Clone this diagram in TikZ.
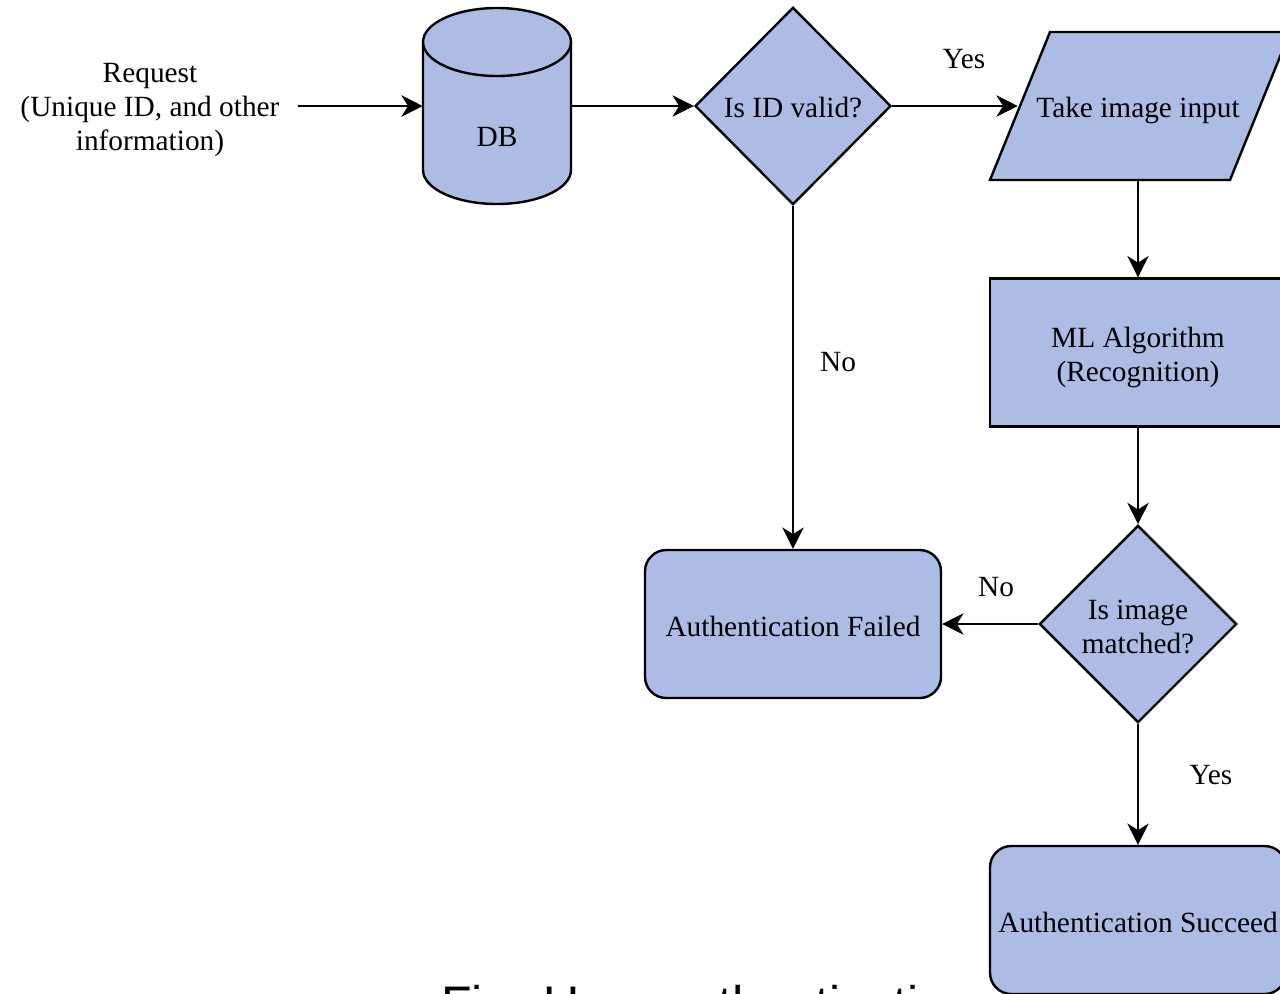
\documentclass[tikz,border=0pt]{standalone}
\usepackage{fontspec}
\setmainfont{Liberation Serif}
\newfontfamily\capfont{Liberation Sans}
\usetikzlibrary{shapes.geometric,arrows.meta}
\definecolor{boxfill}{RGB}{172,188,229}
\begin{document}
\begin{tikzpicture}[x=0.75pt,y=-0.75pt,
  every node/.style={font=\fontsize{22pt}{25.5pt}\selectfont},
  every label/.style={align=center, inner sep=0pt},
  box/.style={draw, line width=1.8pt, fill=boxfill, minimum width=222pt, minimum height=111pt, inner sep=0pt, align=center},
  rbox/.style={box, rounded corners=16pt},
  dec/.style={diamond, draw, line width=1.8pt, fill=boxfill, inner sep=0pt, align=center, minimum width=147pt, minimum height=148pt},
  arr/.style={-{Stealth[length=16pt,width=16pt,inset=5pt]}, line width=1.8pt},
  lbl/.style={inner sep=0pt},
  shp/.style={fill=boxfill, draw, line width=1.8pt}
]
\useasboundingbox (0,0) rectangle (1280,993);
\clip (0,0) rectangle (1280,993);

% caption (cut off at the bottom, as in the reference)
\node[anchor=base west, inner sep=0pt, font=\capfont\fontsize{37.5pt}{40pt}\selectfont] (cap) at (441,1021) {Fig. User authentication};

% request text
\node[align=center, inner xsep=14pt, inner ysep=0pt] (req) at (150,110) {Request\\(Unique ID, and other\\information)};

% DB cylinder
\path[shp] (423,42) -- (423,170) arc[start angle=180,end angle=360,x radius=55.5pt,y radius=25.5pt] -- (571,42) arc[start angle=0,end angle=180,x radius=55.5pt,y radius=25.5pt] -- cycle;
\draw[line width=1.8pt] (423,42) arc[start angle=180,end angle=360,x radius=55.5pt,y radius=25.5pt];
\node[minimum width=111pt, minimum height=148pt, inner sep=0pt] (db) at (497,106) {};
\node (dblabel) at (497,137) {DB};

% decision 1
\node[dec, label={[yshift=-1.5pt]center:Is ID valid?}] (d1) at (793,106) {};

% input parallelogram
\path[shp] (1050,32) -- (1290,32) -- (1230,180) -- (990,180) -- cycle;
\node[minimum width=180pt, minimum height=111pt, inner sep=0pt, label={[yshift=-3pt]center:Take image input}] (inp) at (1138,106) {};

% ML box
\node[box, label={[yshift=-3.75pt]center:ML Algorithm\\(Recognition)}] (ml) at (1138,352.5) {};

% decision 2
\node[dec, minimum width=148pt, label={[yshift=-2.25pt]center:Is image\\matched?}] (d2) at (1138,624) {};

% results
\node[rbox, label={[yshift=-1.5pt]center:Authentication Failed}] (fail) at (793,624) {};
\node[rbox, label={[yshift=-1.5pt]center:Authentication Succeed}] (succ) at (1138,920) {};

% connectors
\draw[arr] (req.east |- db.west) -- (db.west);
\draw[arr] (db.east) -- (d1.west);
\draw[arr] (d1.east) -- (inp.west);
\draw[arr] (inp.south) -- (ml.north);
\draw[arr] (ml.south) -- (d2.north);
\draw[arr] (d1.south) -- (fail.north);
\draw[arr] (d2.west) -- (fail.east);
\draw[arr] (d2.south) -- (succ.north);

% labels
\node[lbl] (yes1) at (964,59) {Yes};
\node[lbl] (no1) at (838,362) {No};
\node[lbl] (no2) at (996,587) {No};
\node[lbl] (yes2) at (1211,775) {Yes};
\end{tikzpicture}
\end{document}
